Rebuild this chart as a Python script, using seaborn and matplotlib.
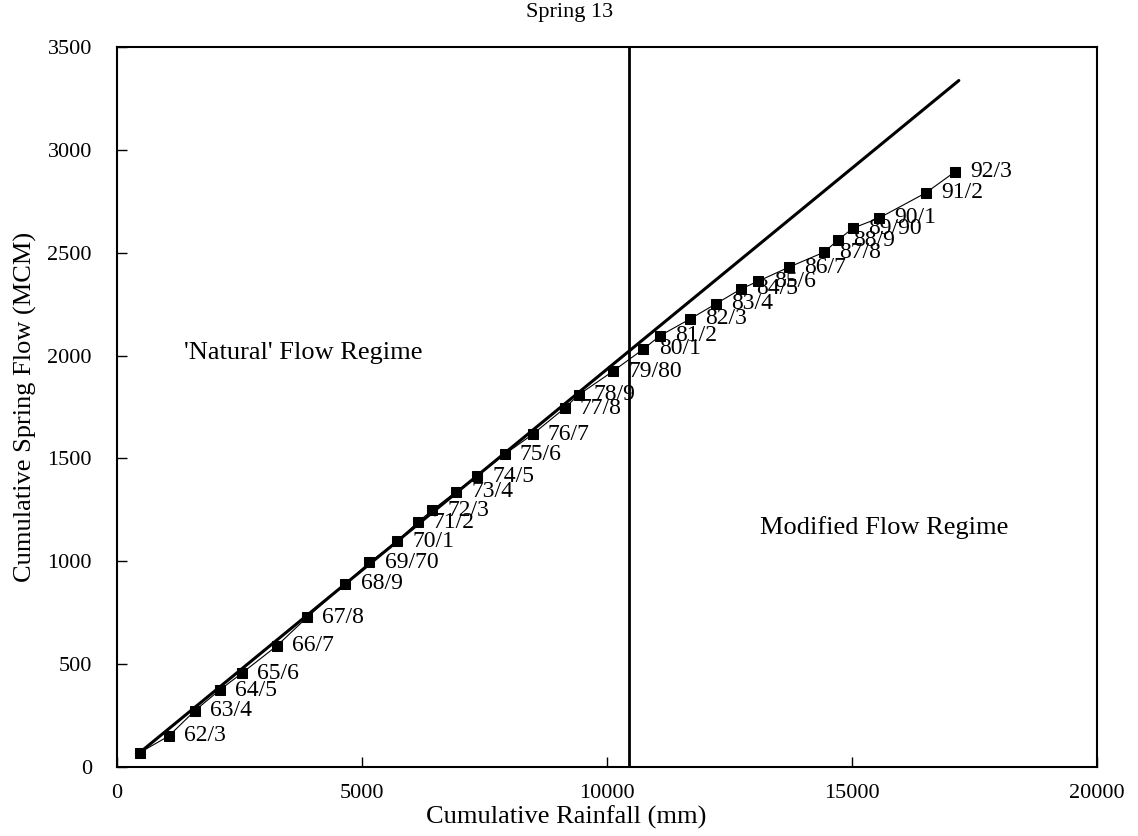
import matplotlib
matplotlib.use('Agg')
import matplotlib.pyplot as plt
import seaborn as sns
import pandas as pd

# cumulative rainfall (mm) and cumulative spring flow (MCM)
rain = [463, 1060, 1590, 2094, 2542, 3268, 3880, 4663, 5152, 5715, 6137, 6436,
        6917, 7346, 7910, 8481, 9134, 9419, 10122, 10744, 11085, 11696, 12218,
        12736, 13089, 13715, 14434, 14705, 15015, 15555, 16507, 17099]
flow = [70, 151, 274, 374, 455, 590, 728, 891, 995, 1097, 1190, 1249,
        1338, 1414, 1520, 1617, 1744, 1809, 1924, 2032, 2097, 2178, 2251,
        2324, 2362, 2430, 2503, 2560, 2619, 2669, 2791, 2893]
years = ['', '62/3', '63/4', '64/5', '65/6', '66/7', '67/8', '68/9', '69/70',
         '70/1', '71/2', '72/3', '73/4', '74/5', '75/6', '76/7', '77/8', '78/9',
         '79/80', '80/1', '81/2', '82/3', '83/4', '84/5', '85/6', '86/7', '87/8',
         '88/9', '89/90', '90/1', '91/2', '92/3']

# 'natural' trend line end points and regime break
fit_x = [463, 17180]
fit_y = [70, 3337]
break_x = 10450

df = pd.DataFrame({'rain': rain, 'flow': flow, 'year': years})
fit = pd.DataFrame({'rain': fit_x, 'flow': fit_y})

sns.set_theme(style='white')
plt.rcParams['font.family'] = ['Liberation Serif', 'DejaVu Serif']
plt.rcParams['text.color'] = 'black'

fig = plt.figure(figsize=(11.38, 8.36), dpi=100)
ax = fig.add_axes([0.1028, 0.0825, 0.8612, 0.8613])

sns.lineplot(data=fit, x='rain', y='flow', color='black', linewidth=2.2, ax=ax)
sns.lineplot(data=df, x='rain', y='flow', sort=False, color='black',
             linewidth=0.8, marker='s', markersize=7, markerfacecolor='black',
             markeredgecolor='black', ax=ax)
ax.axvline(break_x, color='black', linewidth=2.0)

for _, r in df.iterrows():
    if r['year']:
        ax.annotate(r['year'], (r['rain'], r['flow']), xytext=(11, 0),
                    textcoords='offset points', va='center', ha='left',
                    fontsize=17, color='black')

ax.text(1366, 2012, "'Natural' Flow Regime", fontsize=19, va='center', ha='left')
ax.text(13130, 1164, 'Modified Flow Regime', fontsize=19, va='center', ha='left')

ax.set_xlim(0, 20000)
ax.set_ylim(0, 3500)
ax.set_xticks([0, 5000, 10000, 15000, 20000])
ax.set_yticks(range(0, 3501, 500))
ax.tick_params(axis='both', direction='in', length=7, width=1, labelsize=16,
               colors='black')
ax.tick_params(axis='x', pad=12, bottom=True, top=False)
ax.tick_params(axis='y', pad=18, left=True, right=False)

for s in ax.spines.values():
    s.set_color('black')
    s.set_linewidth(1.5)

ax.set_xlabel('Cumulative Rainfall (mm)', fontsize=19, color='black')
ax.set_ylabel('Cumulative Spring Flow (MCM)', fontsize=19, color='black')
ax.xaxis.set_label_coords(0.458, -0.053)
ax.yaxis.set_label_coords(-0.082, 0.5)
ax.text(0.462, 1.035, 'Spring 13', transform=ax.transAxes, fontsize=16,
        ha='center', va='bottom')

fig.savefig('out.png', dpi=100)
